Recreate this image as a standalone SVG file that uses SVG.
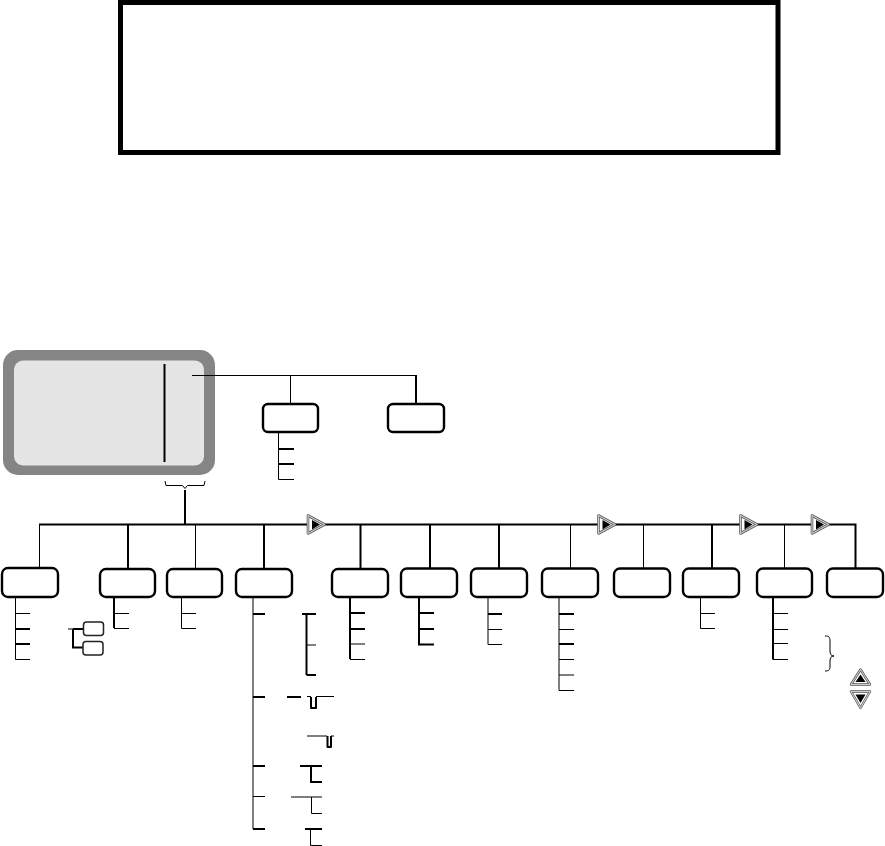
<svg xmlns="http://www.w3.org/2000/svg" width="885" height="846" viewBox="0 0 885 846">
<style>
.box{fill:#fff;stroke:#000;stroke-width:2.4}
.n{fill:none;stroke:#000;stroke-width:1}
.b{fill:none;stroke:#000;stroke-width:2}
</style>
<defs>
<g id="tri"><path d="M1.500 1.500 L18 10.500 L1.500 19.500 Z" fill="#fff" stroke="#555" stroke-width="2.600" stroke-linejoin="round"/><path d="M1.500 1.500 L18 10.500 L1.500 19.500 Z" fill="none" stroke="#ccc" stroke-width="1.200" stroke-linejoin="round"/><path d="M5.500 6 L13.500 10.500 L5.500 15.500 Z" fill="#000"/></g>
<g id="triup"><path d="M10.500 1.500 L20 16.500 L1 16.500 Z" fill="#fff" stroke="#555" stroke-width="2.400" stroke-linejoin="round"/><path d="M10.500 1.500 L20 16.500 L1 16.500 Z" fill="none" stroke="#ccc" stroke-width="1.100" stroke-linejoin="round"/><path d="M10.500 6.500 L15.500 14 L5.500 14 Z" fill="#000"/></g>
<g id="tridn"><path d="M1 1.500 L20 1.500 L10.500 18 Z" fill="#fff" stroke="#555" stroke-width="2.400" stroke-linejoin="round"/><path d="M1 1.500 L20 1.500 L10.500 18 Z" fill="none" stroke="#ccc" stroke-width="1.100" stroke-linejoin="round"/><path d="M5.500 4.500 L15.500 4.500 L10.500 13 Z" fill="#000"/></g>
</defs>
<rect id="title-box" x="120.500" y="2.500" width="657.500" height="150" fill="#fff" stroke="#000" stroke-width="5"/>
<g id="screen">
<rect x="3" y="350" width="212" height="125" rx="15" fill="#858585"/>
<rect x="14" y="360.500" width="190" height="105" rx="9" fill="#e5e5e5"/>
<path class="b" d="M164.500 364V462"/>
</g>
<g id="connectors">
<path class="n" d="M192 375.500H416M290.500 375V404"/>
<path class="b" d="M416 375V404"/>
<path class="n" d="M165 481l1 4.500h16.500l2.500 3 2.500-3h16.500l1-4.500"/>
<path class="b" d="M185 490V525"/>
<path class="b" d="M39 524.500H855.500V568"/>
<path class="n" d="M39.500 524V574M195.500 524V568M570.500 524V568M643.500 524V568M784.500 524V568"/>
<path class="b" d="M128 524V568M264 524V568M360.500 524V568M430 524V568M499 524V568M712 524V568"/>
<path class="n" d="M278.500 432V479.500H294"/><path class="b" d="M278 449H294M278 464H294"/>
<path class="n" d="M15.500 597V659.500H30M15 613.500H30"/><path class="b" d="M15 629H30M15 644H30"/>
<path class="n" d="M68 629H73"/><path class="b" d="M73 629H83M73 629V647.500H83"/>
<path class="b" d="M114 597V628"/><path class="n" d="M114 613.500H129M114 628.500H129"/>
<path class="n" d="M181.500 597V628.500H196M181 613.500H196"/>
<path class="n" d="M253 597V829"/><path class="b" d="M253 614H265M253 697H265M253 766H265M253 829H265"/><path class="n" d="M253 796.500H265"/>
<path class="b" d="M302 614H316M306.500 614V675M306.500 675H316"/><path class="n" d="M307 645H316"/>
<path class="b" d="M287 697H301"/><path class="n" d="M307 696.500H311M316 696.500H334"/><path class="b" d="M311 697V708H316V697" stroke-linejoin="round"/>
<path class="n" d="M307 736H327M331 736H334"/><path class="b" d="M327.500 736V747H331V736" stroke-linejoin="round"/>
<path class="b" d="M300 766H322M311 766V782H322"/>
<path class="n" d="M291 797H322M311.500 797V813.500H322" stroke-width="1.300"/>
<path class="b" d="M305 829H322"/><path class="n" d="M310.500 829V845.500H322"/>
<path class="b" d="M350 597V659"/><path class="b" d="M350 613H365M350 629H365"/><path class="n" d="M350 644H365M350 659.500H365"/>
<path class="b" d="M419 597V644.500H434M419 613H434M419 629H434"/>
<path class="n" d="M488 597V644.500H502M488 629.500H502"/><path class="b" d="M488 614H502"/>
<path class="n" d="M559 597V690.500H574M559 629.500H574M559 659.500H574M559 675H574"/><path class="b" d="M559 614H574M559 644H574"/>
<path class="n" d="M700.500 597V628.500H715M700 613.500H715"/>
<path class="b" d="M773 597V659.500"/><path class="n" d="M773 613.500H788M773 629.500H788M773 643.500H788M773 659.500H788"/>
<path class="n" d="M825 636c4 0 5 1 5 5v10c0 3 1 5 4 5c-3 0-4 2-4 5v5c0 4-1 5-5 5" stroke-width="1.300"/>
</g>
<g id="node-a"><rect class="box" x="263" y="404" width="55" height="28" rx="5"/></g>
<g id="node-b"><rect class="box" x="388" y="404" width="56" height="28" rx="5"/></g>
<g id="node-1"><rect class="box" x="2" y="568" width="56" height="29" rx="6"/></g>
<g id="node-2"><rect class="box" x="100" y="569" width="55" height="28" rx="6"/></g>
<g id="node-3"><rect class="box" x="167" y="569" width="55" height="28" rx="6"/></g>
<g id="node-4"><rect class="box" x="236" y="569" width="56" height="28" rx="6"/></g>
<g id="node-5"><rect class="box" x="332" y="569" width="56" height="28" rx="6"/></g>
<g id="node-6"><rect class="box" x="401" y="568.500" width="56" height="28.500" rx="6"/></g>
<g id="node-7"><rect class="box" x="471" y="568.500" width="56" height="28.500" rx="6"/></g>
<g id="node-8"><rect class="box" x="542" y="568.500" width="56" height="28.500" rx="6"/></g>
<g id="node-9"><rect class="box" x="614" y="568.500" width="56" height="28.500" rx="6"/></g>
<g id="node-10"><rect class="box" x="683" y="568.500" width="56" height="28.500" rx="6"/></g>
<g id="node-11"><rect class="box" x="757" y="568.500" width="55" height="28.500" rx="6"/></g>
<g id="node-12"><rect class="box" x="827" y="568.500" width="56" height="28.500" rx="6"/></g>
<g id="small-1"><rect x="83.500" y="622" width="20" height="13.500" rx="3" fill="#fff" stroke="#222" stroke-width="1.500"/></g>
<g id="small-2"><rect x="83" y="641.500" width="20" height="13.500" rx="3" fill="#fff" stroke="#222" stroke-width="1.500"/></g>
<g id="arrow-1"><use href="#tri" x="306.500" y="514"/></g>
<g id="arrow-2"><use href="#tri" x="597" y="514"/></g>
<g id="arrow-3"><use href="#tri" x="739" y="514"/></g>
<g id="arrow-4"><use href="#tri" x="810.500" y="514"/></g>
<g id="arrow-up"><use href="#triup" x="850" y="668"/></g>
<g id="arrow-down"><use href="#tridn" x="850" y="690"/></g>
</svg>
